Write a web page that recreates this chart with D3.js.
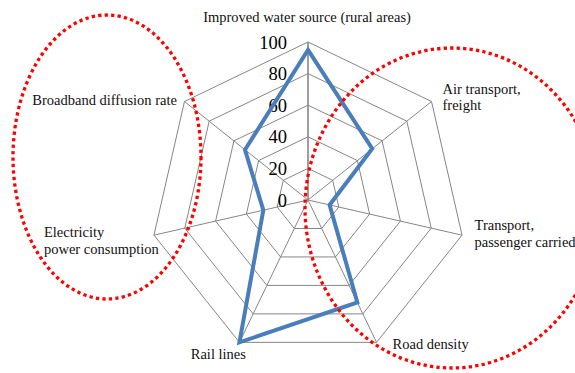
<!DOCTYPE html>
<html>
<head>
<meta charset="utf-8">
<script src="https://cdn.jsdelivr.net/npm/d3@7"></script>
<style>
  body { margin: 0; background: white; }
  svg { display: block; }
</style>
</head>
<body>
<div id="chart"></div>
<script>
// chart data
var categories = [
  ['Improved water source (rural areas)'],
  ['Air transport,', 'freight'],
  ['Transport,', 'passenger carried'],
  ['Road density'],
  ['Rail lines'],
  ['Electricity', 'power consumption'],
  ['Broadband diffusion rate']
];
var values = [95, 52, 14, 72, 100, 29, 51];
var tick_values = [0, 20, 40, 60, 80, 100];

var width = 575, height = 373;
var cx = 308, cy = 200, radius = 158;
var font_family = 'Liberation Serif';

// label placement relative to each spoke end (x offset, baseline offset, anchor)
var label_layout = [
  { dx: -1, dy: -20, anchor: 'middle' },
  { dx: 11, dy: -7.5, anchor: 'start' },
  { dx: 12.5, dy: -5, anchor: 'start' },
  { dx: 16, dy: 7, anchor: 'start' },
  { dx: 6.5, dy: 17, anchor: 'end' },
  { dx: -110, dy: 2, anchor: 'start' },
  { dx: -7.5, dy: 3.5, anchor: 'end' }
];

var svg = d3.select('#chart')
  .append('svg')
  .attr('width', width)
  .attr('height', height)
  .attr('font-family', font_family);

var r = d3.scaleLinear().domain([0, 100]).range([0, radius]);
var angle = d3.scaleLinear()
  .domain([0, categories.length])
  .range([0, 2 * Math.PI]);

function point(i, v){
  var a = angle(i);
  return [cx + r(v) * Math.sin(a), cy - r(v) * Math.cos(a)];
}

var grid_color = '#868686';

// ring polygons
var ring_g = svg.append('g').classed('rings', true);
tick_values.filter(function(d){ return d > 0; }).forEach(function(t){
  var pts = categories.map(function(c, i){ return point(i, t); });
  ring_g.append('polygon')
    .attr('points', pts.map(function(p){ return p.join(','); }).join(' '))
    .style('fill', 'none')
    .style('stroke', grid_color)
    .style('stroke-width', 1);
});

// spokes
svg.append('g')
  .selectAll('line')
  .data(categories)
  .enter()
  .append('line')
  .attr('x1', cx)
  .attr('y1', cy)
  .attr('x2', function(d, i){ return point(i, 100)[0]; })
  .attr('y2', function(d, i){ return point(i, 100)[1]; })
  .style('stroke', grid_color)
  .style('stroke-width', function(d, i){ return i == 0 ? 1.6 : 1; });

// tick labels on the value axis
svg.append('g')
  .selectAll('text')
  .data(tick_values)
  .enter()
  .append('text')
  .attr('x', cx - 21)
  .attr('y', function(d){ return cy - r(d) + 6.5; })
  .attr('font-size', 18.5)
  .attr('text-anchor', 'end')
  .attr('fill', '#000')
  .text(function(d){ return d; });

// data line
var line = d3.line()
  .x(function(d, i){ return point(i, d)[0]; })
  .y(function(d, i){ return point(i, d)[1]; })
  .curve(d3.curveLinearClosed);

svg.append('path')
  .datum(values)
  .attr('d', line)
  .style('fill', 'none')
  .style('stroke', '#4a7ebb')
  .style('stroke-width', 4)
  .style('stroke-linejoin', 'miter');

// category labels
var label_g = svg.append('g')
  .selectAll('text')
  .data(categories)
  .enter()
  .append('text')
  .attr('font-size', 14.5)
  .attr('fill', '#111')
  .attr('text-anchor', function(d, i){ return label_layout[i].anchor; })
  .attr('transform', function(d, i){
    var p = point(i, 100);
    return 'translate(' + (p[0] + label_layout[i].dx) + ',' + (p[1] + label_layout[i].dy) + ')';
  });

label_g.selectAll('tspan')
  .data(function(d){ return d; })
  .enter()
  .append('tspan')
  .attr('x', 0)
  .attr('y', function(d, j){ return j * 16.5; })
  .text(function(d){ return d; });

// red dotted highlight ellipses
var highlights = [
  { cx: 107, cy: 157, rx: 94, ry: 142 },
  { cx: 452, cy: 208, rx: 147, ry: 160 }
];

svg.append('g')
  .selectAll('ellipse')
  .data(highlights)
  .enter()
  .append('ellipse')
  .attr('cx', function(d){ return d.cx; })
  .attr('cy', function(d){ return d.cy; })
  .attr('rx', function(d){ return d.rx; })
  .attr('ry', function(d){ return d.ry; })
  .style('fill', 'none')
  .style('stroke', '#ff0000')
  .style('stroke-width', 3.3)
  .style('stroke-dasharray', '3.3,3.2');
</script>
</body>
</html>
